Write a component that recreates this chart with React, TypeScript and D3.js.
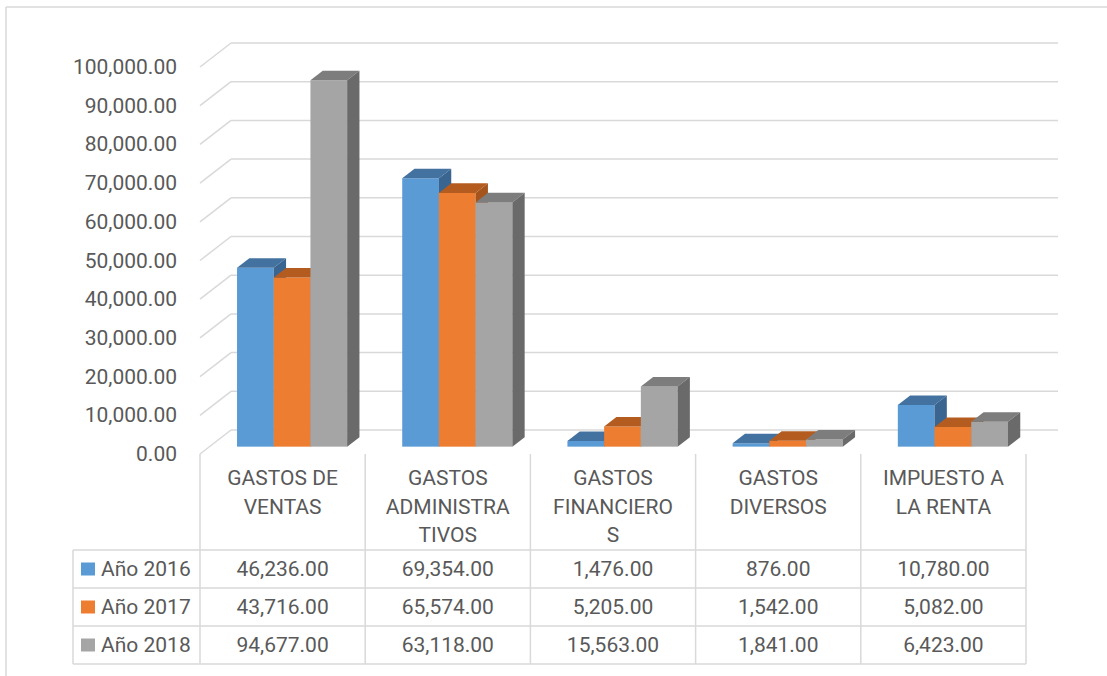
import React from "react";
import * as d3 from "d3";

const categories = ["GASTOS DE VENTAS", "GASTOS ADMINISTRATIVOS", "GASTOS FINANCIEROS", "GASTOS DIVERSOS", "IMPUESTO A LA RENTA"];
const categoryLines = [
  ["GASTOS DE", "VENTAS"],
  ["GASTOS", "ADMINISTRA", "TIVOS"],
  ["GASTOS", "FINANCIERO", "S"],
  ["GASTOS", "DIVERSOS"],
  ["IMPUESTO A", "LA RENTA"],
];
const seriesNames = ["Año 2016", "Año 2017", "Año 2018"];
const values2016 = [46236, 69354, 1476, 876, 10780];
const values2017 = [43716, 65574, 5205, 1542, 5082];
const values2018 = [94677, 63118, 15563, 1841, 6423];
const seriesValues = [values2016, values2017, values2018];
const yTicks = [0, 10000, 20000, 30000, 40000, 50000, 60000, 70000, 80000, 90000, 100000];

const frontColors = ["#5B9BD5", "#ED7D31", "#A5A5A5"];
const topColors = ["#4472A0", "#B45C20", "#7D7D7D"];
const sideColors = ["#3A6590", "#A5541C", "#6A6A6A"];

const W = 1107, H = 676;
const X0 = 200, X1 = 1026;
const DX = 31, DY = 24; // full depth offset
const Z0 = 0.306, Z1 = 0.703;
const GRID = "#D9D9D9";
const TEXT = "#595959";
const FONT = "Roboto, 'Liberation Sans', sans-serif";
const FS = 21;

const fmt = (v: number) => d3.format(",.2f")(v);

export default function App() {
  const y = d3.scaleLinear().domain([0, 100000]).range([454, 67]);
  const xBand = d3.scaleBand<string>().domain(categories).range([X0, X1]).paddingInner(0).paddingOuter(0);
  const bw = xBand.bandwidth();
  const groupW = bw * (110 / 165);
  const xInner = d3.scaleBand<string>().domain(seriesNames).range([0, groupW]).padding(0);

  const rowTops = [550, 588, 626];
  const rowH = 38;
  const tableLeft = 73;
  const tableBottom = rowTops[2] + rowH;

  const bars: React.ReactNode[] = [];
  categories.forEach((c, ci) => {
    seriesNames.forEach((s, si) => {
      const v = seriesValues[si][ci];
      const xa = (xBand(c) as number) + (bw - groupW) / 2 + (xInner(s) as number) + Z0 * DX;
      const xb = xa + xInner.bandwidth();
      const yb = y(0) - Z0 * DY;
      const yt = y(v) - Z0 * DY;
      const ddx = (Z1 - Z0) * DX;
      const ddy = (Z1 - Z0) * DY;
      bars.push(
        <g key={`${ci}-${si}`}>
          <rect x={xa} y={yt} width={xb - xa} height={yb - yt} fill={frontColors[si]} />
          <polygon points={`${xa},${yt} ${xb},${yt} ${xb + ddx},${yt - ddy} ${xa + ddx},${yt - ddy}`} fill={topColors[si]} />
          <polygon points={`${xb},${yt} ${xb + ddx},${yt - ddy} ${xb + ddx},${yb - ddy} ${xb},${yb}`} fill={sideColors[si]} />
        </g>
      );
    });
  });

  const colEdges = [X0, ...categories.map((c) => (xBand(c) as number) + bw)];

  return (
    <svg width={W} height={H} style={{ position: "absolute", left: 0, top: 0, background: "#fff" }} fontFamily={FONT}>
      <rect x={0} y={0} width={W} height={H} fill="#fff" />
      {/* outer frame */}
      <line x1={6} y1={7} x2={W} y2={7} stroke={GRID} strokeWidth={1.5} />
      <line x1={6} y1={7} x2={6} y2={H} stroke={GRID} strokeWidth={1.5} />

      {/* gridlines */}
      {yTicks.map((t) => (
        <g key={t}>
          <line x1={X0} y1={y(t)} x2={X0 + DX} y2={y(t) - DY} stroke={GRID} strokeWidth={1.5} />
          <line x1={X0 + DX} y1={y(t) - DY} x2={X1 + DX + 1} y2={y(t) - DY} stroke={GRID} strokeWidth={1.5} />
        </g>
      ))}

      {/* y tick labels */}
      {yTicks.map((t) => (
        <text key={t} x={177} y={y(t)} textAnchor="end" dominantBaseline="central" fontSize={FS} fill={TEXT}>
          {fmt(t)}
        </text>
      ))}

      {bars}

      {/* category header verticals */}
      {colEdges.map((xe, i) => (
        <line key={i} x1={xe} y1={454} x2={xe} y2={tableBottom} stroke={GRID} strokeWidth={1.5} />
      ))}
      {/* table horizontals */}
      {[...rowTops, tableBottom].map((ry, i) => (
        <line key={i} x1={tableLeft} y1={ry} x2={X1} y2={ry} stroke={GRID} strokeWidth={1.5} />
      ))}
      <line x1={tableLeft} y1={rowTops[0]} x2={tableLeft} y2={tableBottom} stroke={GRID} strokeWidth={1.5} />

      {/* category labels */}
      {categories.map((c, ci) => (
        <text key={c} textAnchor="middle" fontSize={FS} fill={TEXT}>
          {categoryLines[ci].map((ln, li) => (
            <tspan key={li} x={(xBand(c) as number) + bw / 2} y={478 + li * 28.5} dominantBaseline="central">
              {ln}
            </tspan>
          ))}
        </text>
      ))}

      {/* table rows */}
      {seriesNames.map((s, si) => (
        <g key={s}>
          <rect x={81} y={rowTops[si] + rowH / 2 - 6.5} width={14} height={13} fill={frontColors[si]} />
          <text x={101} y={rowTops[si] + rowH / 2} dominantBaseline="central" fontSize={FS} fill={TEXT}>
            {s}
          </text>
          {categories.map((c, ci) => (
            <text key={c} x={(xBand(c) as number) + bw / 2} y={rowTops[si] + rowH / 2} textAnchor="middle" dominantBaseline="central" fontSize={FS} fill={TEXT}>
              {fmt(seriesValues[si][ci])}
            </text>
          ))}
        </g>
      ))}
    </svg>
  );
}
